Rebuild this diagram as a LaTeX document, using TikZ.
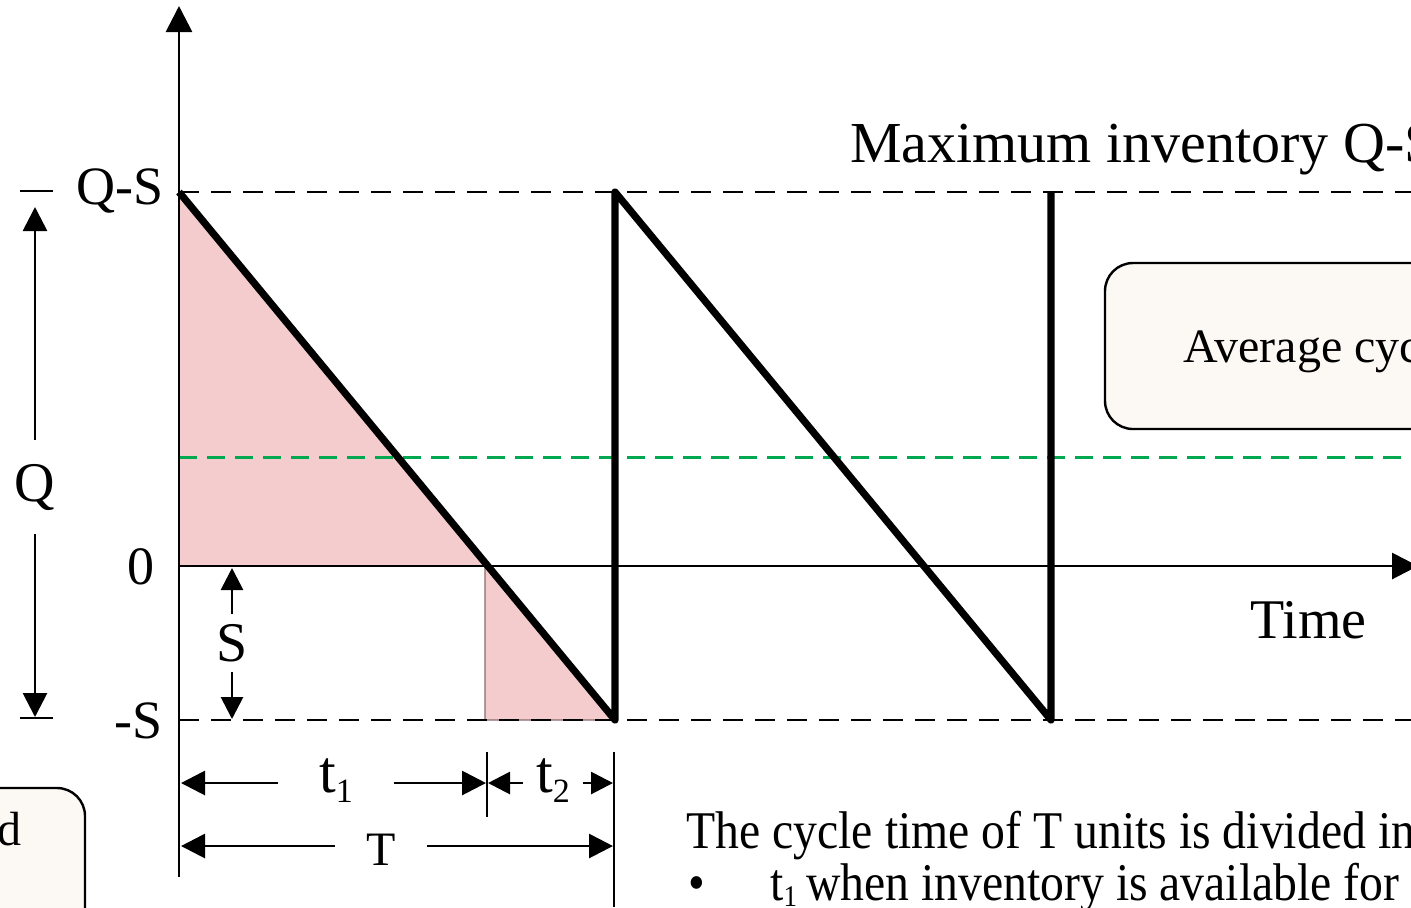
\documentclass[tikz,border=0pt]{standalone}
\usepackage{fontspec}
\setmainfont{Liberation Serif}
\newfontfamily\narrowserif[FakeStretch=0.9]{Liberation Serif}
\usetikzlibrary{arrows.meta,positioning}
\definecolor{shortpink}{HTML}{F4CCCE}
\definecolor{shortedge}{HTML}{8A6A6A}
\definecolor{avggreen}{HTML}{00A850}
\definecolor{notefill}{HTML}{FCF9F4}
\newcommand{\tsub}[1]{{\fontsize{17}{17}\selectfont\raisebox{-5pt}{#1}}}

\begin{document}
\begin{tikzpicture}[
    x=0.5pt, y=-0.5pt,
    every node/.style={font=\fontsize{27}{30}\selectfont, inner sep=0pt},
    levelline/.style={line width=1.2pt, dash pattern=on 10pt off 6pt},
    avgline/.style={avggreen, line width=1.5pt, dash pattern=on 9pt off 5pt},
    shortage/.style={fill=shortpink, draw=shortedge, line width=0.6pt},
    stockline/.style={line width=3.6pt, line join=round},
    axisline/.style={line width=1.4pt},
    dimarrow/.style={line width=1.4pt, -{Triangle[length=12pt, width=12pt]}},
    smallarrow/.style={line width=1.4pt, -{Triangle[length=11pt, width=11pt]}},
    note/.style={draw, line width=1.2pt, rounded corners=14pt, fill=notefill}
]
\useasboundingbox (0,0) rectangle (1411,907);
\clip (0,0) rectangle (1411,907);

% reference points
\coordinate (qsAxis) at (179,192);
\coordinate (zeroAxis) at (179,566);
\coordinate (negAxis) at (179,720);
\coordinate (zeroCross) at (485,566);
\coordinate (shortCorner) at (485,720);
\coordinate (lowOne) at (615,720);
\coordinate (highOne) at (615,192);
\coordinate (lowTwo) at (1051,720);
\coordinate (highTwo) at (1051,192);

% shortage and holding areas
\filldraw[shortage] (qsAxis) -- (zeroCross) -- (zeroAxis) -- cycle;
\filldraw[shortage] (zeroCross) -- (lowOne) -- (shortCorner) -- cycle;

% levels
\coordinate (qsEnd) at (1411,192);
\coordinate (negEnd) at (1411,720);
\coordinate (avgStart) at (179,457);
\coordinate (avgEnd) at (1411,457);
\draw[levelline] (qsAxis) -- (qsEnd);
\draw[levelline] (negAxis) -- (negEnd);
\draw[avgline] (avgStart) -- (avgEnd);

% axes
\coordinate (yBottom) at (179,877);
\coordinate (yTop) at (179,6);
\coordinate (xEnd) at (1418,566);
\draw[axisline, -{Triangle[length=13pt, width=13pt]}] (yBottom) -- (yTop);
\draw[axisline, -{Triangle[length=13pt, width=13pt]}] (zeroAxis) -- (xEnd);

% inventory sawtooth
\draw[stockline] (qsAxis) -- (lowOne) -- (highOne) -- (lowTwo) -- (highTwo);

% level labels
\node[anchor=base east] (lblQS) at (164,204) {Q-S};
\node[anchor=base east] (lblZero) at (155,584) {0};
\node[anchor=base east] (lblNeg) at (163,738) {-S};
\node[anchor=base west, font=\fontsize{29}{32}\selectfont] (lblMax) at (850,162) {Maximum inventory Q-S};
\node[anchor=base west, font=\fontsize{28}{30}\selectfont] (lblTime) at (1250,638) {Time};

% Q dimension
\coordinate (qTickTopL) at (20,191);
\coordinate (qTickTopR) at (53,191);
\coordinate (qTickBotL) at (20,718);
\coordinate (qTickBotR) at (53,718);
\coordinate (qDimTop) at (35,207);
\coordinate (qDimBot) at (35,717);
\draw[axisline] (qTickTopL) -- (qTickTopR);
\draw[axisline] (qTickBotL) -- (qTickBotR);
\node[minimum height=47pt, font=\fontsize{28}{30}\selectfont] (lblQ) at (35,487) {Q};
\draw[dimarrow] (lblQ.north) -- (qDimTop);
\draw[dimarrow] (lblQ.south) -- (qDimBot);

% S dimension
\coordinate (sDimTop) at (232,568);
\coordinate (sDimBot) at (232,719);
\node[minimum height=29pt, font=\fontsize{28}{30}\selectfont] (lblS) at (232,643) {S};
\draw[smallarrow] (lblS.north) -- (sDimTop);
\draw[smallarrow] (lblS.south) -- (sDimBot);

% time dimensions
\coordinate (tickOneTop) at (487,752);
\coordinate (tickOneBot) at (487,817);
\coordinate (tickTwoTop) at (614,752);
\coordinate (tickTwoBot) at (614,907);
\draw[axisline] (tickOneTop) -- (tickOneBot);
\draw[axisline] (tickTwoTop) -- (tickTwoBot);
\coordinate (tOneL) at (181,783);
\coordinate (tOneR) at (486,783);
\coordinate (tTwoL) at (488,783);
\coordinate (tTwoR) at (613,783);
\coordinate (bigTL) at (181,846);
\coordinate (bigTR) at (613,846);
\node[minimum width=58pt, font=\fontsize{30}{30}\selectfont] (lblTOne) at (336,781) {t\tsub{1}};
\node[minimum width=30pt, font=\fontsize{30}{30}\selectfont] (lblTTwo) at (553,781) {t\tsub{2}};
\node[minimum width=46pt, font=\fontsize{24}{26}\selectfont] (lblBigT) at (381,850) {T};
\draw[dimarrow] (lblTOne.west |- tOneL) -- (tOneL);
\draw[dimarrow] (lblTOne.east |- tOneR) -- (tOneR);
\draw[smallarrow] (lblTTwo.west |- tTwoL) -- (tTwoL);
\draw[smallarrow] (lblTTwo.east |- tTwoR) -- (tTwoR);
\draw[dimarrow] (lblBigT.west |- bigTL) -- (bigTL);
\draw[dimarrow] (lblBigT.east |- bigTR) -- (bigTR);

% notes
\draw[note] (1105,263) rectangle (1560,429);
\node[anchor=base west, font=\fontsize{24}{26}\selectfont] (avgNote) at (1183,362) {Average cycle};
\draw[note] (-120,788) rectangle (85,1000);
\node[anchor=base east, font=\fontsize{24}{26}\selectfont] (leftNote) at (22,845) {d};

% explanation text
\node[anchor=base west, font=\narrowserif\fontsize{26.5}{30}\selectfont] (cycleText) at (686,848) {The cycle time of T units is divided into};
\node[anchor=base west, font=\narrowserif\fontsize{26.5}{30}\selectfont] (bulletMark) at (688,900) {•};
\node[anchor=base west, font=\narrowserif\fontsize{26.5}{30}\selectfont] (bulletText) at (770,900) {t{\fontsize{15}{15}\selectfont\raisebox{-3pt}{1}}\,when inventory is available for};
\end{tikzpicture}
\end{document}
